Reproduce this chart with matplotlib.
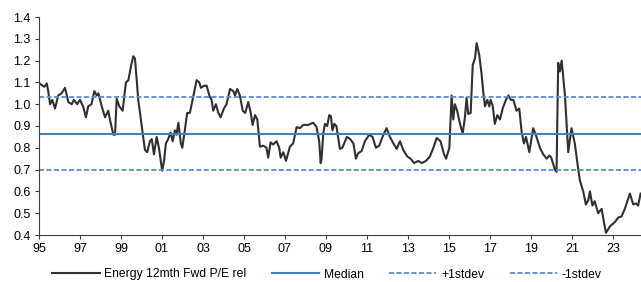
import matplotlib
matplotlib.use("Agg")
import matplotlib.pyplot as plt
import numpy as np

plt.rcParams['font.family'] = ['Liberation Sans', 'DejaVu Sans']

years = [1995.0, 1995.1, 1995.26, 1995.38, 1995.45, 1995.54, 1995.65, 1995.78, 1995.94, 1996.1,
         1996.27, 1996.43, 1996.6, 1996.7, 1996.86, 1997.0, 1997.15, 1997.29, 1997.4, 1997.56,
         1997.7, 1997.82, 1997.9, 1998.06, 1998.22, 1998.38, 1998.47, 1998.63, 1998.71, 1998.79,
         1998.92, 1999.08, 1999.24, 1999.36, 1999.5, 1999.6, 1999.68, 1999.76, 1999.84, 1999.93,
         2000.06, 2000.17, 2000.28, 2000.41, 2000.5, 2000.61, 2000.74, 2000.85, 2001.01, 2001.1,
         2001.19, 2001.3, 2001.42, 2001.52, 2001.63, 2001.71, 2001.8, 2001.92, 2001.99, 2002.09,
         2002.23, 2002.36, 2002.49, 2002.69, 2002.82, 2002.9, 2003.05, 2003.18, 2003.31, 2003.42,
         2003.5, 2003.63, 2003.75, 2003.86, 2004.02, 2004.15, 2004.32, 2004.48, 2004.56, 2004.67,
         2004.8, 2004.94, 2005.06, 2005.21, 2005.33, 2005.42, 2005.54, 2005.65, 2005.78, 2005.94,
         2006.1, 2006.18, 2006.3, 2006.42, 2006.59, 2006.72, 2006.79, 2006.92, 2007.05, 2007.24,
         2007.4, 2007.57, 2007.73, 2007.89, 2008.13, 2008.38, 2008.54, 2008.67, 2008.74, 2008.78,
         2008.87, 2008.95, 2009.06, 2009.16, 2009.24, 2009.32, 2009.41, 2009.51, 2009.62, 2009.68,
         2009.8, 2009.93, 2010.02, 2010.18, 2010.34, 2010.46, 2010.57, 2010.74, 2010.9, 2011.11,
         2011.27, 2011.44, 2011.6, 2011.8, 2011.96, 2012.12, 2012.29, 2012.45, 2012.61, 2012.77,
         2012.97, 2013.13, 2013.3, 2013.51, 2013.67, 2013.88, 2014.07, 2014.24, 2014.4, 2014.59,
         2014.76, 2014.86, 2015.02, 2015.13, 2015.21, 2015.29, 2015.4, 2015.54, 2015.67, 2015.78,
         2015.86, 2015.94, 2016.06, 2016.16, 2016.27, 2016.35, 2016.48, 2016.59, 2016.67, 2016.76,
         2016.87, 2016.97, 2017.03, 2017.13, 2017.24, 2017.36, 2017.49, 2017.62, 2017.78, 2017.9,
         2018.02, 2018.14, 2018.3, 2018.43, 2018.55, 2018.66, 2018.76, 2018.92, 2019.11, 2019.27,
         2019.44, 2019.6, 2019.77, 2019.9, 2019.99, 2020.07, 2020.17, 2020.25, 2020.33, 2020.41,
         2020.5, 2020.66, 2020.82, 2020.98, 2021.14, 2021.31, 2021.39, 2021.55, 2021.68, 2021.8,
         2021.88, 2022.0, 2022.11, 2022.28, 2022.45, 2022.56, 2022.66, 2022.86, 2023.1, 2023.26,
         2023.42, 2023.58, 2023.83, 2023.99, 2024.12, 2024.23, 2024.35]
values = [1.096, 1.09, 1.08, 1.095, 1.06, 1.0, 1.02, 0.98, 1.04, 1.05,
          1.075, 1.01, 1.0, 1.02, 1.0, 1.02, 0.99, 0.94, 0.99, 1.0,
          1.06, 1.04, 1.05, 0.99, 0.94, 0.97, 0.925, 0.86, 0.86, 1.025,
          0.99, 0.97, 1.1, 1.11, 1.18, 1.22, 1.21, 1.12, 1.02, 0.96,
          0.865, 0.79, 0.78, 0.83, 0.84, 0.77, 0.85, 0.80, 0.695, 0.74,
          0.82, 0.84, 0.87, 0.83, 0.88, 0.86, 0.915, 0.82, 0.80, 0.865,
          0.96, 0.96, 1.02, 1.11, 1.10, 1.075, 1.085, 1.085, 1.04, 1.02,
          0.97, 1.0, 0.96, 0.94, 0.98, 1.0, 1.07, 1.06, 1.04, 1.07,
          1.04, 0.97, 0.96, 1.01, 0.96, 0.905, 0.95, 0.93, 0.805, 0.81,
          0.80, 0.755, 0.825, 0.815, 0.83, 0.80, 0.755, 0.78, 0.74, 0.805,
          0.82, 0.895, 0.89, 0.905, 0.905, 0.915, 0.895, 0.83, 0.73, 0.744,
          0.866, 0.91, 0.90, 0.95, 0.945, 0.88, 0.91, 0.90, 0.83, 0.795,
          0.80, 0.83, 0.85, 0.84, 0.82, 0.75, 0.775, 0.785, 0.83, 0.86,
          0.85, 0.80, 0.81, 0.86, 0.89, 0.85, 0.82, 0.795, 0.83, 0.79,
          0.76, 0.75, 0.73, 0.74, 0.73, 0.74, 0.76, 0.80, 0.845, 0.83,
          0.77, 0.75, 0.80, 1.04, 0.93, 1.0, 0.97, 0.91, 0.865, 0.94,
          1.03, 0.955, 0.96, 1.18, 1.21, 1.28, 1.225, 1.14, 1.06, 0.99,
          1.02, 0.99, 1.02, 0.995, 0.91, 0.95, 0.93, 0.98, 1.02, 1.04,
          1.02, 1.02, 0.97, 0.98, 0.87, 0.82, 0.85, 0.78, 0.89, 0.85,
          0.80, 0.77, 0.75, 0.765, 0.755, 0.73, 0.70, 0.69, 1.19, 1.15,
          1.20, 1.04, 0.78, 0.89, 0.82, 0.70, 0.65, 0.60, 0.54, 0.56,
          0.60, 0.535, 0.555, 0.50, 0.52, 0.46, 0.41, 0.44, 0.46, 0.48,
          0.485, 0.52, 0.59, 0.54, 0.545, 0.535, 0.59]

median = 0.865
plus1sd = 1.033
minus1sd = 0.697

xtick_pos = [1995, 1997, 1999, 2001, 2003, 2005, 2007, 2009, 2011, 2013, 2015, 2017, 2019, 2021, 2023]
xtick_labels = ['95', '97', '99', '01', '03', '05', '07', '09', '11', '13', '15', '17', '19', '21', '23']
ytick_pos = [0.4, 0.5, 0.6, 0.7, 0.8, 0.9, 1.0, 1.1, 1.2, 1.3, 1.4]

blue = '#4A7EBB'
blue_dash = '#5B8CCB'
dash = (0, (2.8, 1.35))
fig = plt.figure(figsize=(6.41, 2.82), dpi=100)
ax = fig.add_axes([39/641, 47/282, 602/641, 218/282])

ax.plot(years, values, color='#303030', lw=1.5, label='Energy 12mth Fwd P/E rel')
ax.axhline(median, color=blue, lw=1.5, label='Median')
ax.axhline(plus1sd, color=blue_dash, lw=1.3, ls=dash, label='+1stdev')
ax.axhline(minus1sd, color=blue_dash, lw=1.3, ls=dash, label='-1stdev')

ax.set_xlim(1995.0, 2024.37)
ax.set_ylim(0.4, 1.4)
ax.set_xticks(xtick_pos)
ax.set_xticklabels(xtick_labels)
ax.set_yticks(ytick_pos)
ax.set_yticklabels([f'{v:.1f}' for v in ytick_pos])
for s in ['top', 'right']:
    ax.spines[s].set_visible(False)
for s in ['left', 'bottom']:
    ax.spines[s].set_color('#404040')
ax.tick_params(axis='both', labelsize=9, color='#404040', length=3, direction='out', pad=3)

leg = fig.legend(loc='center', ncol=4, frameon=False, fontsize=8.7, handlelength=3.9,
                 columnspacing=2.1, borderaxespad=0, handletextpad=0.4,
                 bbox_to_anchor=(327/641, 1 - 274.5/282), bbox_transform=fig.transFigure)

fig.savefig('out.png', dpi=100)
